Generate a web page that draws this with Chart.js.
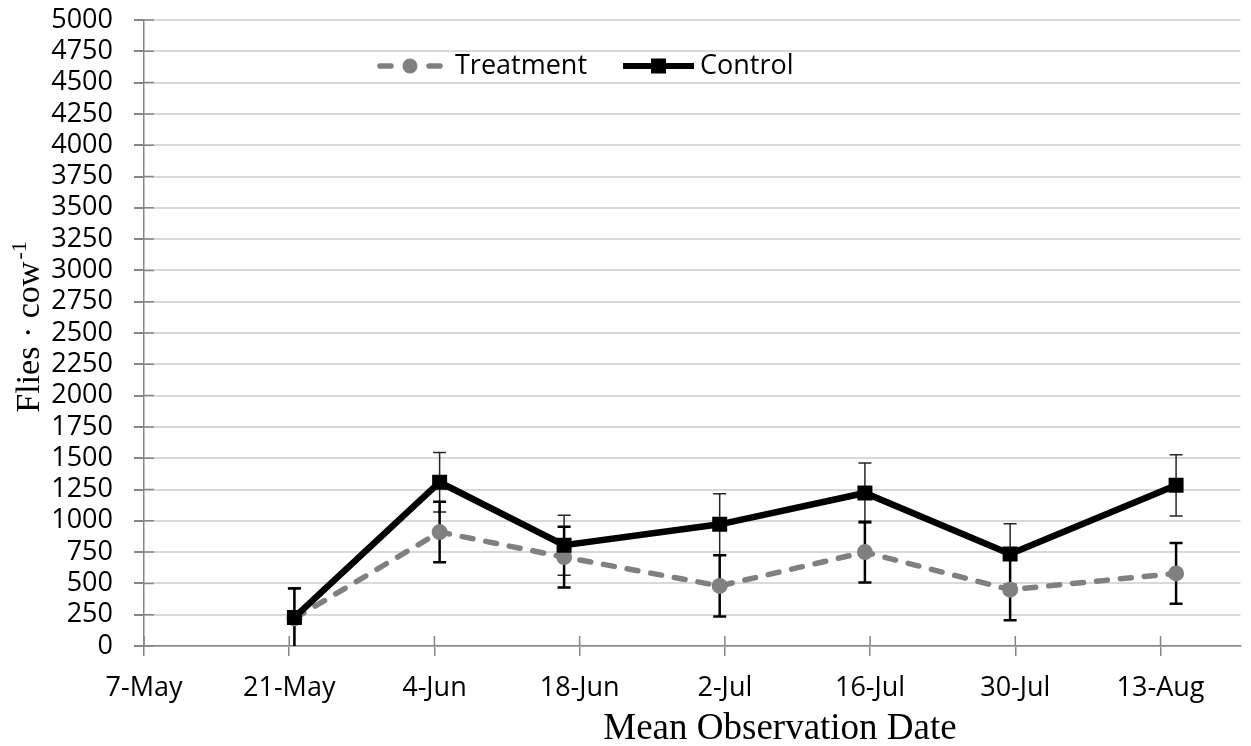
<!DOCTYPE html>
<html>
<head>
<meta charset="utf-8">
<script src="https://cdn.jsdelivr.net/npm/chart.js@4.4.1/dist/chart.umd.min.js"></script>
<style>
  body { margin: 0; background: #fff; }
  #wrap { width: 1251px; height: 746px; }
</style>
</head>
<body>
<div id="wrap"><canvas id="myChart" width="1251" height="746"></canvas></div>
<script>
// days after 7 May (mean observation date)
const obsDay = [14.5, 28.5, 40.5, 55.5, 69.5, 83.5, 99.5];
const treatment = [220, 910, 710, 480, 750, 450, 580];
const control = [228, 1308, 805, 972, 1222, 735, 1283];
const treatmentErr = [240, 242, 243, 245, 243, 245, 243];
const controlErr = [237, 238, 240, 245, 240, 242, 245];
const tickDays = [0, 14, 28, 42, 56, 70, 84, 98];
const tickLabels = ['7-May', '21-May', '4-Jun', '18-Jun', '2-Jul', '16-Jul', '30-Jul', '13-Aug'];

Chart.defaults.font.family = "'Open Sans'";
Chart.defaults.font.size = 27;
Chart.defaults.color = '#000';

const toPoints = (ys) => ys.map((y, i) => ({x: obsDay[i], y: y}));

// error bars, drawn with the chart scales
const errorBars = {
  id: 'errorBars',
  beforeDatasetsDraw(chart) {
    const {ctx, chartArea, scales: {x, y}} = chart;
    const sets = [
      {vals: control, err: controlErr, color: '#262626', width: 1.5},
      {vals: treatment, err: treatmentErr, color: '#000', width: 2.5}
    ];
    ctx.save();
    ctx.beginPath();
    ctx.rect(chartArea.left, chartArea.top - 5, chartArea.width, chartArea.height + 5);
    ctx.clip();
    sets.forEach(s => {
      ctx.strokeStyle = s.color;
      ctx.lineWidth = s.width;
      s.vals.forEach((v, i) => {
        const px = x.getPixelForValue(obsDay[i]);
        const top = y.getPixelForValue(v + s.err[i]);
        const bot = y.getPixelForValue(v - s.err[i]);
        ctx.beginPath();
        ctx.moveTo(px, top); ctx.lineTo(px, bot);
        ctx.moveTo(px - 6.5, top); ctx.lineTo(px + 6.5, top);
        if (v - s.err[i] > 0) { ctx.moveTo(px - 6.5, bot); ctx.lineTo(px + 6.5, bot); }
        ctx.stroke();
      });
    });
    ctx.restore();

    // inner halves of the axis tick marks
    ctx.save();
    ctx.strokeStyle = '#868686';
    ctx.lineWidth = 1.5;
    ctx.beginPath();
    tickDays.forEach(d => {
      const px = x.getPixelForValue(d);
      ctx.moveTo(px, chartArea.bottom); ctx.lineTo(px, chartArea.bottom - 10);
    });
    y.ticks.forEach(t => {
      const py = y.getPixelForValue(t.value);
      ctx.moveTo(chartArea.left, py); ctx.lineTo(chartArea.left + 10, py);
    });
    ctx.stroke();
    ctx.restore();
  }
};

// legend and axis titles
const extras = {
  id: 'extras',
  afterDraw(chart) {
    const ctx = chart.ctx;
    const ly = 66;
    ctx.save();
    // Treatment
    ctx.strokeStyle = '#808080';
    ctx.lineWidth = 5.5;
    ctx.lineCap = 'round';
    ctx.beginPath();
    ctx.moveTo(380, ly); ctx.lineTo(391, ly);
    ctx.moveTo(429, ly); ctx.lineTo(440, ly);
    ctx.stroke();
    ctx.fillStyle = '#808080';
    ctx.beginPath(); ctx.arc(410, ly, 7.5, 0, Math.PI * 2); ctx.fill();
    // Control
    ctx.strokeStyle = '#000';
    ctx.lineWidth = 6;
    ctx.lineCap = 'butt';
    ctx.beginPath(); ctx.moveTo(623, ly); ctx.lineTo(694, ly); ctx.stroke();
    ctx.fillStyle = '#000';
    ctx.fillRect(651, ly - 7.5, 15, 15);
    ctx.font = "27px 'Open Sans'";
    ctx.textBaseline = 'middle';
    ctx.textAlign = 'left';
    ctx.fillText('Treatment', 455, ly);
    ctx.fillText('Control', 700, ly);

    // x title
    ctx.font = "37px 'Liberation Serif'";
    ctx.textAlign = 'center';
    ctx.textBaseline = 'alphabetic';
    ctx.fillText('Mean Observation Date', 780, 739);

    // y title with superscript
    ctx.translate(39, 327);
    ctx.rotate(-Math.PI / 2);
    ctx.font = "34px 'Liberation Serif'";
    const main = 'Flies · cow';
    const w1 = ctx.measureText(main).width;
    ctx.font = "22px 'Liberation Serif'";
    const w2 = ctx.measureText('-1').width;
    const start = -(w1 + w2 + 2) / 2;
    ctx.textAlign = 'left';
    ctx.font = "34px 'Liberation Serif'";
    ctx.fillText(main, start, 0);
    ctx.font = "22px 'Liberation Serif'";
    ctx.fillText('-1', start + w1 + 2, -13);
    ctx.restore();
  }
};

const chart = new Chart(document.getElementById('myChart'), {
  type: 'line',
  data: {
    datasets: [
      {
        label: 'Treatment',
        data: toPoints(treatment),
        borderColor: '#808080',
        backgroundColor: '#808080',
        borderWidth: 5.5,
        borderDash: [11, 13],
        borderCapStyle: 'round',
        pointStyle: 'circle',
        pointRadius: 8,
        pointBorderWidth: 0,
        order: 1
      },
      {
        label: 'Control',
        data: toPoints(control),
        borderColor: '#000',
        backgroundColor: '#000',
        borderWidth: 6.5,
        pointStyle: 'rect',
        pointRadius: 10.6,
        pointBorderWidth: 0,
        order: 0
      }
    ]
  },
  options: {
    responsive: false,
    animation: false,
    layout: { padding: 0 },
    plugins: { legend: { display: false }, tooltip: { enabled: false } },
    scales: {
      x: {
        type: 'linear',
        min: 0,
        max: 105.7,
        afterBuildTicks: s => { s.ticks = tickDays.map(v => ({value: v})); },
        afterFit: s => { s.height = 100; },
        ticks: {
          autoSkip: false,
          maxRotation: 0,
          padding: 16,
          callback: (v) => tickLabels[tickDays.indexOf(v)]
        },
        grid: { drawOnChartArea: false, tickLength: 10, tickColor: '#868686', lineWidth: 1.5 },
        border: { color: '#868686', width: 1.5 }
      },
      y: {
        min: 0,
        max: 5000,
        afterFit: s => { s.width = 144; s.paddingTop = 20; s.paddingBottom = 0; },
        ticks: { stepSize: 250, autoSkip: false, padding: 21, callback: (v) => String(v) },
        grid: { color: '#d9d9d9', lineWidth: 2, tickLength: 10, tickColor: '#868686' },
        border: { color: '#868686', width: 1.5 }
      }
    }
  },
  plugins: [errorBars, extras]
});
</script>
</body>
</html>
